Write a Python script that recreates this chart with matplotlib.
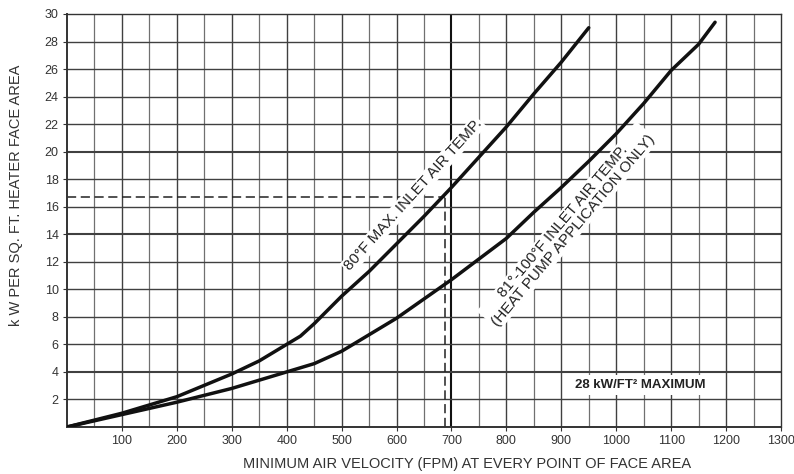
import matplotlib.pyplot as plt
import numpy as np

plt.rcParams['font.family'] = ['Liberation Sans', 'DejaVu Sans']

# 80 F max inlet air temp curve
vel_80 = [0, 100, 200, 300, 350, 400, 425, 450, 475, 500, 550, 600, 650, 700, 750, 800, 850, 900, 950]
kw_80 = [0, 1.0, 2.2, 3.85, 4.8, 6.0, 6.6, 7.5, 8.5, 9.5, 11.3, 13.3, 15.3, 17.4, 19.6, 21.8, 24.2, 26.5, 29.0]

# 81-100 F inlet air temp curve (heat pump)
vel_hp = [0, 100, 200, 300, 400, 450, 500, 600, 700, 800, 850, 900, 950, 1000, 1050, 1100, 1150, 1180]
kw_hp = [0, 0.9, 1.8, 2.8, 4.0, 4.6, 5.5, 7.9, 10.7, 13.7, 15.6, 17.4, 19.3, 21.3, 23.5, 25.9, 27.8, 29.4]

# example reading (dashed)
ex_vel = 688
ex_kw = 16.7

x_ticks = list(range(100, 1301, 100))
y_ticks = list(range(2, 31, 2))

fig = plt.figure(figsize=(7.94, 4.74), dpi=100)
ax = fig.add_axes([0.0844, 0.0992, 0.8992, 0.8713])
ax.set_xlim(0, 1300)
ax.set_ylim(0, 30)

# grid
for xv in range(50, 1300, 50):
    if xv % 100 == 0:
        lw, col = (1.5, "#111111") if xv == 700 else (1.0, "#404040")
    else:
        lw, col = 0.9, "#707070"
    ax.axvline(xv, color=col, lw=lw, zorder=1)
for yv in y_ticks[:-1]:
    lw = 1.5 if yv in (4, 14, 20) else 1.0
    ax.axhline(yv, color="#404040", lw=lw, zorder=1)

# dashed example lines
ax.plot([0, ex_vel], [ex_kw, ex_kw], color="#222222", lw=1.1, ls=(0, (6, 3)), zorder=2)
ax.plot([ex_vel, ex_vel], [0, ex_kw], color="#222222", lw=1.1, ls=(0, (6, 3)), zorder=2)

ax.plot(vel_80, kw_80, color="#111111", lw=2.5, zorder=4, solid_capstyle="round")
ax.plot(vel_hp, kw_hp, color="#111111", lw=2.5, zorder=4, solid_capstyle="round")

box = dict(facecolor="white", edgecolor="none", pad=1.0)
ax.text(630, 16.85, "80°F MAX. INLET AIR TEMP.", rotation=48, rotation_mode="anchor",
        ha="center", va="center", fontsize=11, color="#222222", bbox=box, zorder=3)
ax.text(912, 14.6, "81°-100°F INLET AIR TEMP.\n(HEAT PUMP APPLICATION ONLY)", rotation=50,
        rotation_mode="anchor", ha="center", va="center", multialignment="center",
        fontsize=11, color="#222222", linespacing=0.95, bbox=box, zorder=3)
ax.text(1043, 3.05, "28 kW/FT² MAXIMUM", ha="center", va="center", fontsize=9.5,
        fontweight="bold", color="#222222", bbox=dict(facecolor="white", edgecolor="none", pad=3),
        zorder=3)

ax.set_xticks(x_ticks)
ax.set_yticks(y_ticks)
ax.tick_params(direction="out", length=3, width=0.8, color="#333333", labelsize=9,
               labelcolor="#333333", pad=3)
for s in ax.spines.values():
    s.set_color("#333333")
    s.set_linewidth(1.0)
ax.spines["left"].set_linewidth(1.4)
ax.spines["bottom"].set_linewidth(1.4)

ax.set_xlabel("MINIMUM AIR VELOCITY (FPM) AT EVERY POINT OF FACE AREA", fontsize=10.5,
              color="#333333")
ax.xaxis.set_label_coords(0.56, -0.072)
ax.set_ylabel("k W PER SQ. FT. HEATER FACE AREA", fontsize=10.5, color="#333333")
ax.yaxis.set_label_coords(-0.062, 0.56)

fig.savefig("out.png", dpi=100)
